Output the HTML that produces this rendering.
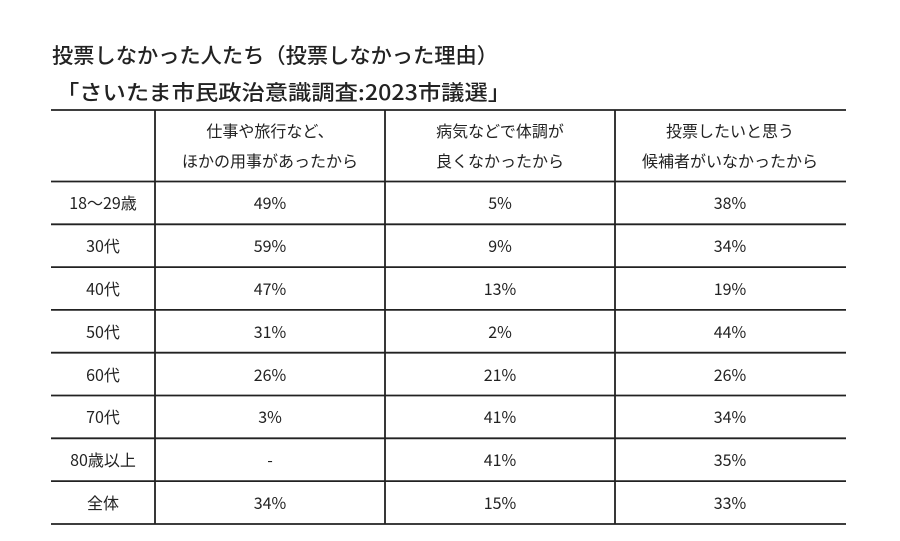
<!DOCTYPE html>
<html><head><meta charset="utf-8"><style>
body{margin:0;background:#fff;}
svg{display:block}
text{font-family:"Noto Sans CJK JP","Liberation Sans",sans-serif;fill:#222;}
</style></head><body>
<svg width="900" height="541" viewBox="0 0 900 541">
<text x="52" y="63" font-size="21" font-weight="500" fill="#111" textLength="446" lengthAdjust="spacingAndGlyphs">投票しなかった人たち（投票しなかった理由）</text>
<text x="56" y="100" font-size="21" font-weight="500" fill="#111" textLength="455" lengthAdjust="spacingAndGlyphs">「さいたま市民政治意識調査:2023市議選」</text>
<g stroke="#222" stroke-width="1.8">
<line x1="51" y1="110" x2="846" y2="110"/>
<line x1="51" y1="181.5" x2="846" y2="181.5"/>
<line x1="51" y1="224.3" x2="846" y2="224.3"/>
<line x1="51" y1="267.1" x2="846" y2="267.1"/>
<line x1="51" y1="309.9" x2="846" y2="309.9"/>
<line x1="51" y1="352.7" x2="846" y2="352.7"/>
<line x1="51" y1="395.5" x2="846" y2="395.5"/>
<line x1="51" y1="438.3" x2="846" y2="438.3"/>
<line x1="51" y1="481.1" x2="846" y2="481.1"/>
<line x1="51" y1="524" x2="846" y2="524"/>
<line x1="155" y1="110" x2="155" y2="524"/>
<line x1="385" y1="110" x2="385" y2="524"/>
<line x1="615" y1="110" x2="615" y2="524"/>
</g>
<g font-size="16" text-anchor="middle">
<text x="270" y="137">仕事や旅行など、</text>
<text x="270" y="167">ほかの用事があったから</text>
<text x="500" y="137">病気などで体調が</text>
<text x="500" y="167">良くなかったから</text>
<text x="730" y="137">投票したいと思う</text>
<text x="730" y="167">候補者がいなかったから</text>
</g>
<g font-size="16" text-anchor="middle">
<text x="103" y="209">18〜29歳</text><text x="270" y="209">49%</text><text x="500" y="209">5%</text><text x="730" y="209">38%</text>
<text x="103" y="252">30代</text><text x="270" y="252">59%</text><text x="500" y="252">9%</text><text x="730" y="252">34%</text>
<text x="103" y="295">40代</text><text x="270" y="295">47%</text><text x="500" y="295">13%</text><text x="730" y="295">19%</text>
<text x="103" y="338">50代</text><text x="270" y="338">31%</text><text x="500" y="338">2%</text><text x="730" y="338">44%</text>
<text x="103" y="381">60代</text><text x="270" y="381">26%</text><text x="500" y="381">21%</text><text x="730" y="381">26%</text>
<text x="103" y="423">70代</text><text x="270" y="423">3%</text><text x="500" y="423">41%</text><text x="730" y="423">34%</text>
<text x="103" y="466">80歳以上</text><text x="270" y="466">-</text><text x="500" y="466">41%</text><text x="730" y="466">35%</text>
<text x="103" y="509">全体</text><text x="270" y="509">34%</text><text x="500" y="509">15%</text><text x="730" y="509">33%</text>
</g>
</svg>
</body></html>
